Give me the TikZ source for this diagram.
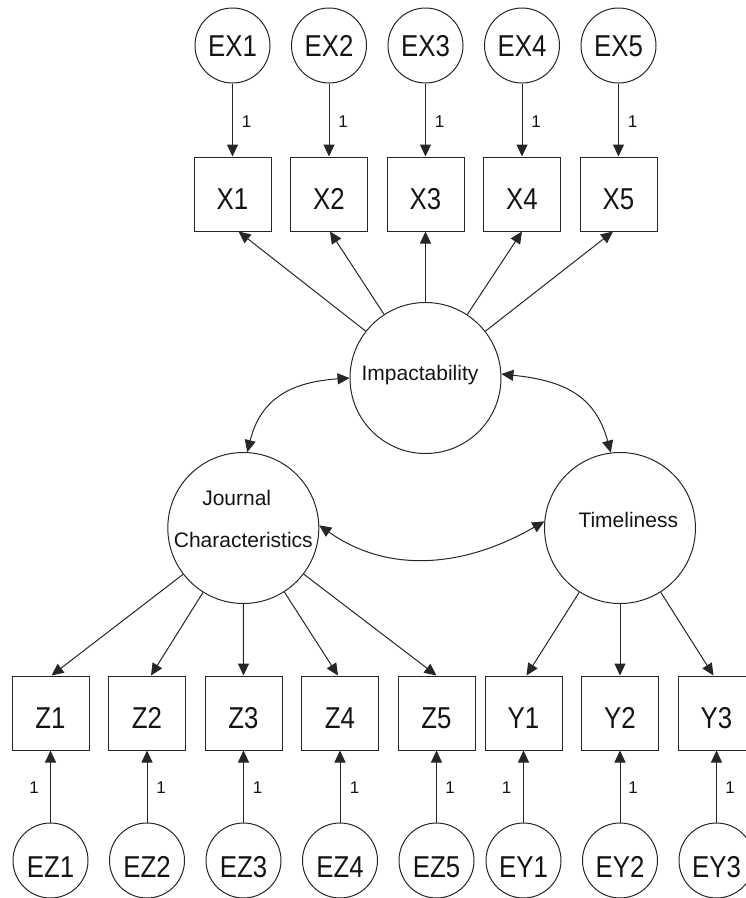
\documentclass[tikz,border=0pt]{standalone}
\usepackage{fontspec}
\setmainfont{Liberation Sans}
\usepackage{graphicx}
\usetikzlibrary{arrows.meta}
\newcommand{\tl}[1]{\scalebox{1}[1.17]{#1}}
\begin{document}
\begin{tikzpicture}[x=1pt,y=-1pt,
  ln/.style={line width=1pt, draw=black!85},
  arr/.style={ln, -{Triangle[length=12pt,width=11pt]}},
  darr/.style={ln, {Triangle[length=12pt,width=11pt]}-{Triangle[length=12pt,width=11pt]}},
  obs/.style={ln, rectangle, minimum width=77pt, minimum height=74pt, inner sep=0pt,
    font=\fontsize{25.8}{30}\selectfont, text=black!92, text height=31.6pt, text depth=0pt},
  err/.style={ln, circle, minimum size=75pt, inner sep=0pt,
    font=\fontsize{25.8}{30}\selectfont, text=black!92, text height=21.6pt, text depth=0pt},
  errb/.style={err, text height=33pt},
  lat/.style={ln, circle, minimum size=151pt, inner sep=0pt},
  lattxt/.style={font=\fontsize{21}{25}\selectfont, text=black!92, anchor=base, inner sep=0pt},
  lbl/.style={font=\fontsize{17}{20}\selectfont, text=black!92, inner sep=0pt},
]
\useasboundingbox (0,0) rectangle (746,898);
\clip (0,0) rectangle (746,898);

% top error terms and indicators
\foreach \i/\x in {1/232.5,2/329,3/425.5,4/522,5/618.5}{
  \node[err] (EX\i) at (\x,45.5) {\tl{EX\i}};
  \node[obs] (X\i) at (\x,194) {\tl{X\i}};
  \draw[arr] (EX\i) -- (X\i) node[lbl, midway, xshift=14, yshift=-2] (lx\i) {1};
}

% latent variables
\node[lat] (imp) at (425.5,378) {};
\node[lat] (jc) at (243.3,528) {};
\node[lat] (tim) at (620,528) {};
\node[lattxt] (impt) at (420,380) {Impactability};
\node[lattxt] (jct1) at (236.7,505) {Journal};
\node[lattxt] (jct2) at (243.3,547) {Characteristics};
\node[lattxt] (timt) at (628.3,527) {Timeliness};

% loadings of Impactability
\draw[arr] (imp) -- ([xshift=6]X1.south);
\draw[arr] (imp) -- ([xshift=1]X2.south);
\draw[arr] (imp) -- (X3.south);
\draw[arr] (imp) -- (X4.south);
\draw[arr] (imp) -- ([xshift=-5.5]X5.south);

% covariances
\draw[darr] (jc.87) to[out=76,in=184,looseness=1.15] (imp.west);
\draw[darr] (imp.3) to[out=-6,in=105,looseness=1.15] (tim.97);
\draw[darr] (jc.2) to[out=-35,in=-150] (tim.175);

% bottom indicators and error terms
\foreach \n/\x/\s in {Z1/50.5/-16.5,Z2/147/14,Z3/243.5/14,Z4/340/14.5,Z5/436.5/13.5,Y1/523.5/-17,Y2/620/13,Y3/716.5/13.5}{
  \node[obs] (\n) at (\x,713) {\tl{\n}};
  \node[errb] (E\n) at (\x,860.5) {\tl{E\n}};
  \draw[arr] (E\n) -- (\n) node[lbl, midway, xshift=\s, yshift=-1.5] (l\n) {1};
}

% loadings of Journal Characteristics and Timeliness
\draw[arr] (jc) -- ([xshift=1]Z1.north);
\draw[arr] (jc) -- ([xshift=4]Z2.north);
\draw[arr] (jc) -- (Z3.north);
\draw[arr] (jc) -- ([xshift=-2]Z4.north);
\draw[arr] (jc) -- (Z5.north);
\draw[arr] (tim) -- ([xshift=3]Y1.north);
\draw[arr] (tim) -- (Y2.north);
\draw[arr] (tim) -- ([xshift=-3]Y3.north);
\end{tikzpicture}
\end{document}
